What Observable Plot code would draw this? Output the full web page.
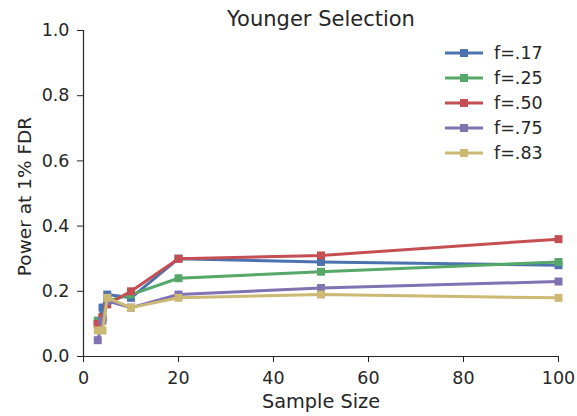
<!DOCTYPE html>
<html>
<head>
<meta charset="utf-8">
<script src="https://cdn.jsdelivr.net/npm/d3@7"></script>
<script src="https://cdn.jsdelivr.net/npm/@observablehq/plot@0.6"></script>
<style>
  html, body { margin: 0; padding: 0; background: #fff; }
  #wrap { position: relative; width: 577px; height: 416px; font-family: "DejaVu Sans", sans-serif; }
  #legend { position: absolute; left: 444px; top: 40px; color: #262626; font-size: 17.5px; }
  #legend .row { display: flex; align-items: center; height: 25px; }
  #legend svg { margin-right: 10px; }
</style>
</head>
<body>
<div id="wrap"><div id="legend"></div></div>
<script>
const title = "Younger Selection";
const xLabel = "Sample Size";
const yLabel = "Power at 1% FDR";
const sampleSizes = [3, 4, 5, 10, 20, 50, 100];
const seriesNames = ["f=.17", "f=.25", "f=.50", "f=.75", "f=.83"];
const f17 = [0.10, 0.15, 0.19, 0.18, 0.30, 0.29, 0.28];
const f25 = [0.11, 0.12, 0.17, 0.19, 0.24, 0.26, 0.29];
const f50 = [0.10, 0.12, 0.16, 0.20, 0.30, 0.31, 0.36];
const f75 = [0.05, 0.11, 0.17, 0.15, 0.19, 0.21, 0.23];
const f83 = [0.08, 0.08, 0.18, 0.15, 0.18, 0.19, 0.18];
const seriesColors = ["#4C72B0", "#55A868", "#C44E52", "#8172B2", "#CCB974"];
const xTicks = [0, 20, 40, 60, 80, 100];
const yTicks = [0, 0.2, 0.4, 0.6, 0.8, 1.0];

const seriesValues = [f17, f25, f50, f75, f83];
const ink = "#262626";

const seriesMarks = seriesNames.flatMap((name, i) => {
  const rows = sampleSizes.map((n, j) => ({n, v: seriesValues[i][j], series: name}));
  return [
    Plot.line(rows, {x: "n", y: "v", stroke: "series", strokeWidth: 3}),
    Plot.dot(rows, {x: "n", y: "v", fill: "series", symbol: "square", r: 4.5, stroke: "none"})
  ];
});

const chart = Plot.plot({
  width: 577,
  height: 416,
  marginLeft: 83,
  marginRight: 19,
  marginTop: 30,
  marginBottom: 60,
  style: {fontFamily: "DejaVu Sans, sans-serif", color: ink, background: "#fff"},
  x: {domain: [0, 100]},
  y: {domain: [0, 1]},
  color: {domain: seriesNames, range: seriesColors},
  marks: [
    Plot.axisX({ticks: xTicks, tickSize: 6, tickPadding: 9, label: null, fontSize: 17.5, stroke: ink, fill: ink}),
    Plot.axisY({ticks: yTicks, tickSize: 6, tickPadding: 8, tickFormat: d3.format(".1f"), label: null, fontSize: 17.5, stroke: ink, fill: ink}),
    Plot.ruleX([0], {stroke: ink, strokeWidth: 1.2}),
    Plot.ruleY([0], {stroke: ink, strokeWidth: 1.2}),
    ...seriesMarks,
    Plot.text([title], {frameAnchor: "top", lineAnchor: "middle", textAnchor: "middle", dy: -11, fontSize: 21, fill: ink}),
    Plot.text([xLabel], {frameAnchor: "bottom", lineAnchor: "middle", textAnchor: "middle", dy: 45, fontSize: 19.3, fill: ink}),
    Plot.text([yLabel], {frameAnchor: "left", lineAnchor: "middle", textAnchor: "middle", dx: -58, dy: 3, rotate: -90, fontSize: 18.5, fill: ink})
  ]
});

const wrap = document.getElementById("wrap");
wrap.insertBefore(chart, wrap.firstChild);

const legend = document.getElementById("legend");
seriesNames.forEach((name, i) => {
  const row = document.createElement("div");
  row.className = "row";
  const c = seriesColors[i];
  row.innerHTML = `<svg width="40" height="12"><line x1="1" y1="6" x2="39" y2="6" stroke="${c}" stroke-width="3"/><rect x="16" y="2" width="8" height="8" fill="${c}"/></svg><span>${name}</span>`;
  legend.appendChild(row);
});
</script>
</body>
</html>
